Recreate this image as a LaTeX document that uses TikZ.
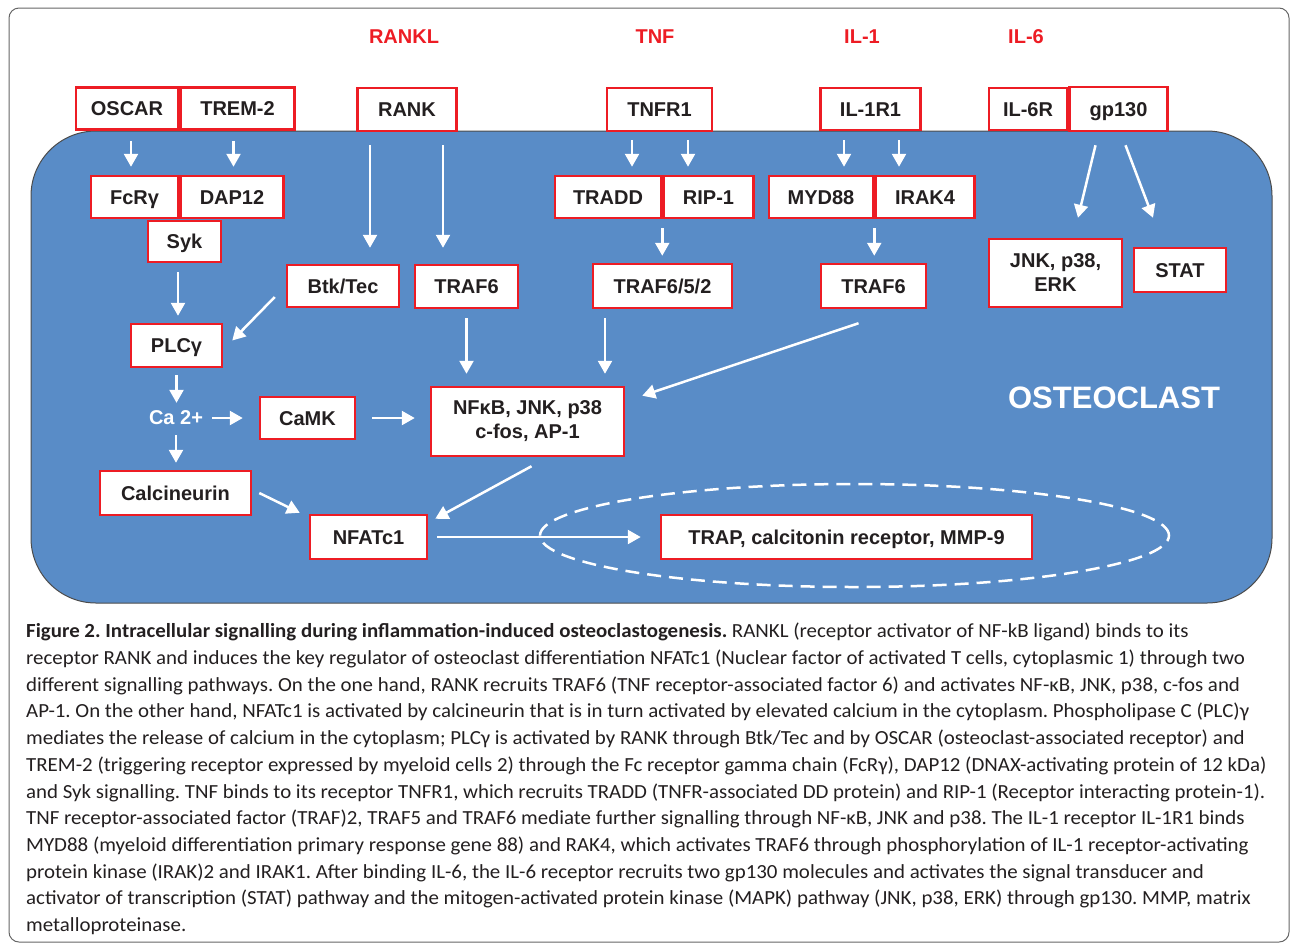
\documentclass[tikz,border=0pt]{standalone}
\usepackage{fontspec}
\setmainfont{Liberation Sans}
\newfontfamily\capfont[FakeStretch=1.045]{Carlito}
\usetikzlibrary{shapes, arrows.meta, positioning}
\definecolor{cellblue}{RGB}{89,140,199}
\definecolor{boxred}{RGB}{237,28,36}
\definecolor{ink}{RGB}{35,31,32}
\tikzstyle{protbase} = [rectangle, draw=boxred, line width=2.5pt, fill=white, text=ink, font=\bfseries\fontsize{20}{24}\selectfont, minimum height=42pt, inner sep=2pt, align=center]
\tikzstyle{prot} = [protbase, text height=15.5pt, text depth=1pt]
\tikzstyle{ligand} = [text=boxred, font=\bfseries\fontsize{20}{24}\selectfont]
\tikzstyle{arrow} = [-{Triangle[length=13pt,width=14pt]}, white, line width=2.5pt]

\begin{document}
\begin{tikzpicture}[x=1pt,y=-1pt]
\useasboundingbox (0,0) rectangle (1290,943);
\draw[gray!80!black, line width=1pt, rounded corners=10pt] (9,8) rectangle (1289,942);
\draw[fill=cellblue, draw=black!70, line width=1pt, rounded corners=65pt] (31,131) rectangle (1272,603);
\draw[white, dashed, line width=2.5pt, dash pattern=on 14pt off 8pt] (854.5,535.5) ellipse [x radius=314.5pt, y radius=51.5pt];

% ligands
\node[ligand] (rankl) at (404,37) {RANKL};
\node[ligand] (tnf) at (655,37) {TNF};
\node[ligand] (il1) at (862,37) {IL-1};
\node[ligand] (il6) at (1026,37) {IL-6};

% receptors
\node(oscar) [prot, minimum width=102pt] at (127,108.5) {OSCAR};
\node(trem) [prot, minimum width=114pt, right=0pt of oscar] {TREM-2};
\node(rank) [prot, minimum width=99pt, minimum height=43pt] at (407,109.5) {RANK};
\node(tnfr) [prot, minimum width=105pt, minimum height=43pt] at (659.5,109.5) {TNFR1};
\node(ilr) [prot, minimum width=100pt] at (870.5,109) {IL-1R1};
\node(il6r) [prot, minimum width=78pt] at (1028,109) {IL-6R};
\node(gp) [prot, minimum width=98pt, minimum height=44pt, right=0pt of il6r] {gp130};

% adaptors
\node(fcr) [prot, minimum width=87pt] at (134.5,197) {FcRγ};
\node(dap) [prot, minimum width=103pt, right=0pt of fcr] {DAP12};
\node(syk) [prot, minimum width=73pt, minimum height=41pt] at (184.5,241.5) {Syk};
\node(tradd) [prot, minimum width=106pt] at (608,197) {TRADD};
\node(rip) [prot, minimum width=90pt, right=0pt of tradd] {RIP-1};
\node(myd) [prot, minimum width=104pt] at (821,197) {MYD88};
\node(irak) [prot, minimum width=99pt, right=0pt of myd] {IRAK4};

\node(btk) [prot, minimum width=112pt] at (343,286) {Btk/Tec};
\node(traf6) [prot, minimum width=103pt, minimum height=43pt] at (466.5,286.5) {TRAF6};
\node(t652) [prot, minimum width=139pt, minimum height=44pt] at (662.5,286) {TRAF6/5/2};
\node(traf6b) [prot, minimum width=105pt, minimum height=44pt] at (873.5,286) {TRAF6};
\node(jnk) [protbase, minimum width=133pt, minimum height=68pt] at (1055.5,273) {JNK, p38,\\ERK};
\node(stat) [prot, minimum width=92pt, minimum height=44pt] at (1180,270) {STAT};

% calcium branch
\node(plc) [prot, minimum width=91pt, minimum height=43pt] at (176.5,345.5) {PLCγ};
\node(ca) [text=white, font=\bfseries\fontsize{20}{24}\selectfont, minimum height=30pt, inner xsep=2pt] at (176,418) {Ca 2+};
\node(camk) [prot, minimum width=95pt] at (307.5,418) {CaMK};
\node(nfkb) [protbase, minimum width=193pt, minimum height=69pt] at (527.5,421.5) {NFκB, JNK, p38\\c-fos, AP-1};
\node(calc) [prot, minimum width=151pt, minimum height=44pt] at (175.5,493) {Calcineurin};
\node(nfatc) [prot, minimum width=117pt, minimum height=44pt] at (368.5,537) {NFATc1};
\node(trap) [prot, minimum width=371pt, minimum height=44pt] at (846.5,537) {TRAP, calcitonin receptor, MMP-9};

\node(cell) [text=white, font=\bfseries\fontsize{31}{36}\selectfont] at (1114,398) {OSTEOCLAST};

\draw[arrow, shorten <=10pt, shorten >=8pt] ([xshift=4pt]oscar.south) -- ([xshift=4pt]oscar.south |- fcr.north);
\draw[arrow, shorten <=10pt, shorten >=8pt] ([xshift=-4pt]trem.south) -- ([xshift=-4pt]trem.south |- dap.north);
\draw[arrow, shorten <=13pt, shorten >=16pt] ([xshift=-37pt]rank.south) -- ([xshift=-37pt]rank.south |- btk.north);
\draw[arrow, shorten <=13pt, shorten >=16pt] ([xshift=36pt]rank.south) -- ([xshift=36pt]rank.south |- traf6.north);
\draw[arrow, shorten <=8pt, shorten >=8pt] ([xshift=-27.5pt]tnfr.south) -- ([xshift=-27.5pt]tnfr.south |- tradd.north);
\draw[arrow, shorten <=8pt, shorten >=8pt] ([xshift=28.5pt]tnfr.south) -- ([xshift=28.5pt]tnfr.south |- rip.north);
\draw[arrow, shorten <=9pt, shorten >=8pt] ([xshift=-26.5pt]ilr.south) -- ([xshift=-26.5pt]ilr.south |- myd.north);
\draw[arrow, shorten <=9pt, shorten >=8pt] ([xshift=28.5pt]ilr.south) -- ([xshift=28.5pt]ilr.south |- irak.north);
\draw[arrow] ([xshift=-23pt,yshift=-13pt]gp.south) -- ([xshift=22.5pt,yshift=20pt]jnk.north);
\draw[arrow] ([xshift=7pt,yshift=-13pt]gp.south) -- ([xshift=-27pt,yshift=29pt]stat.north);
\draw[arrow, shorten <=9pt, shorten >=7pt] (tradd.south east) -- (tradd.south east |- t652.north);
\draw[arrow, shorten <=9pt, shorten >=7pt] (myd.south east) -- (myd.south east |- traf6b.north);
\draw[arrow, shorten <=9pt, shorten >=7pt] ([xshift=1.5pt]plc.north |- syk.south) -- ([xshift=1.5pt]plc.north);
\draw[arrow] ([xshift=-11pt,yshift=-11pt]btk.west) -- ([xshift=9pt,yshift=5pt]plc.east);
\draw[arrow, shorten <=9pt, shorten >=12pt] (traf6.south) -- (traf6.south |- nfkb.north);
\draw[arrow, shorten <=9pt, shorten >=12pt] ([xshift=-57.5pt]t652.south) -- ([xshift=-57.5pt]t652.south |- nfkb.north);
\draw[arrow] ([xshift=-15pt,yshift=-14pt]traf6b.south) -- ([xshift=17pt,yshift=-10pt]nfkb.north east);
\draw[arrow, shorten <=7pt] (plc.south) -- (plc.south |- ca.north);
\draw[arrow, shorten <=2pt, shorten >=7pt] (ca.south) -- (ca.south |- calc.north);
\draw[arrow, shorten <=7pt, shorten >=16pt] (ca.east) -- (camk.west);
\draw[arrow, shorten <=16pt, shorten >=15pt] (camk.east) -- (camk.east -| nfkb.west);
\draw[arrow] ([xshift=7pt]calc.east) -- ([xshift=-9pt,yshift=1pt]nfatc.north west);
\draw[arrow] ([xshift=4pt,yshift=-9pt]nfkb.south) -- ([xshift=7pt,yshift=-5pt]nfatc.north east);
\draw[arrow, shorten <=9pt, shorten >=19pt] (nfatc.east) -- (trap.west);

% caption
\node(caption) [anchor=north west, inner sep=0pt, align=left, text=ink, font=\capfont\fontsize{20}{26.7}\selectfont\frenchspacing] at (26,623) {\textbf{Figure 2. Intracellular signalling during inflammation-induced osteoclastogenesis.} RANKL (receptor activator of NF-kB ligand) binds to its\\
receptor RANK and induces the key regulator of osteoclast differentiation NFATc1 (Nuclear factor of activated T cells, cytoplasmic 1) through two\\
different signalling pathways. On the one hand, RANK recruits TRAF6 (TNF receptor-associated factor 6) and activates NF-κB, JNK, p38, c-fos and\\
AP-1. On the other hand, NFATc1 is activated by calcineurin that is in turn activated by elevated calcium in the cytoplasm. Phospholipase C (PLC)γ\\
mediates the release of calcium in the cytoplasm; PLCγ is activated by RANK through Btk/Tec and by OSCAR (osteoclast-associated receptor) and\\
TREM-2 (triggering receptor expressed by myeloid cells 2) through the Fc receptor gamma chain (FcRγ), DAP12 (DNAX-activating protein of 12 kDa)\\
and Syk signalling. TNF binds to its receptor TNFR1, which recruits TRADD (TNFR-associated DD protein) and RIP-1 (Receptor interacting protein-1).\\
TNF receptor-associated factor (TRAF)2, TRAF5 and TRAF6 mediate further signalling through NF-κB, JNK and p38. The IL-1 receptor IL-1R1 binds\\
MYD88 (myeloid differentiation primary response gene 88) and RAK4, which activates TRAF6 through phosphorylation of IL-1 receptor-activating\\
protein kinase (IRAK)2 and IRAK1. After binding IL-6, the IL-6 receptor recruits two gp130 molecules and activates the signal transducer and\\
activator of transcription (STAT) pathway and the mitogen-activated protein kinase (MAPK) pathway (JNK, p38, ERK) through gp130. MMP, matrix\\
metalloproteinase.};
\end{tikzpicture}
\end{document}
